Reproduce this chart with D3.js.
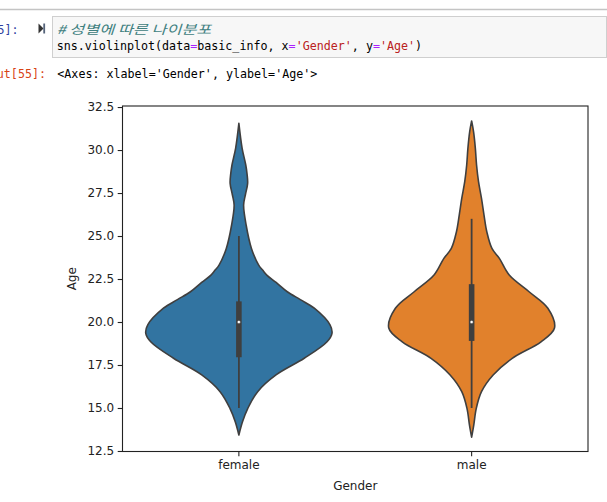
<!DOCTYPE html>
<html>
<head>
<meta charset="utf-8">
<script src="https://cdn.jsdelivr.net/npm/d3@7"></script>
<style>
  body { margin: 0; background: #fff; }
  svg { display: block; }
</style>
</head>
<body>
<script>
// categories and colours
var categories = ["female", "male"];
var colors = ["#3274a1", "#e1812c"];
var yTicks = [12.5, 15.0, 17.5, 20.0, 22.5, 25.0, 27.5, 30.0, 32.5];

// kde outline (age, relative density)
var femaleAge = [13.43, 14.2, 14.98, 15.95, 16.92, 17.89, 18.85, 19.34, 19.83, 20.8, 21.3, 21.76, 22.3, 22.73, 23.02, 23.31, 24.28, 25.64, 26.8, 27.4, 28.06, 28.6, 29.13, 30.1, 31.55];
var femaleDensity = [0, 0.039, 0.096, 0.202, 0.399, 0.702, 0.947, 1.0, 0.979, 0.81, 0.66, 0.52, 0.4, 0.3, 0.255, 0.213, 0.135, 0.078, 0.051, 0.07, 0.094, 0.088, 0.074, 0.035, 0];
var maleAge = [13.3, 14.01, 14.98, 15.95, 16.92, 17.89, 18.85, 19.65, 20.8, 21.76, 22.73, 23.7, 24.28, 25.25, 26.22, 27.19, 28.16, 29.13, 30.1, 31.06, 31.69];
var maleDensity = [0, 0.023, 0.05, 0.106, 0.231, 0.436, 0.745, 0.89, 0.819, 0.617, 0.404, 0.298, 0.218, 0.163, 0.133, 0.106, 0.074, 0.053, 0.04, 0.021, 0];

// whisker low, q1, median, q3, whisker high
var femaleBox = [15.0, 17.95, 20.0, 21.2, 25.0];
var maleBox = [15.0, 18.9, 20.0, 22.2, 26.0];

// notebook text
var inPrompt = "In [55]:";
var outPrompt = "Out[55]:";
var commentLine = "# 성별에 따른 나이분포";
var codeTokens = [
  ["sns.violinplot(data", "#000"], ["=", "#aa22ff"], ["basic_info, x", "#000"], ["=", "#aa22ff"],
  ["'Gender'", "#ba2121"], [", y", "#000"], ["=", "#aa22ff"], ["'Age'", "#ba2121"], [")", "#000"]
];
var outText = "<Axes: xlabel='Gender', ylabel='Age'>";

(function() {
var violins = [
  {name: categories[0], color: colors[0], pts: femaleAge.map(function(a, i) { return [a, femaleDensity[i]]; }), box: femaleBox},
  {name: categories[1], color: colors[1], pts: maleAge.map(function(a, i) { return [a, maleDensity[i]]; }), box: maleBox}
];

var svg = d3.select("body").append("svg")
  .attr("width", 607)
  .attr("height", 502);

// ---- notebook chrome ----
var cw = 7.03; // monospace cell width
var mono = "'DejaVu Sans Mono', monospace";
var monoSize = "11.68px"; // gives ~7.03px per char

svg.append("line")
  .attr("x1", 0).attr("x2", 607).attr("y1", 9.5).attr("y2", 9.5)
  .attr("stroke", "#c4c4c4").attr("stroke-width", 1.5);

svg.append("rect")
  .attr("x", 52.5).attr("y", 16.5).attr("width", 554).attr("height", 41)
  .attr("fill", "#f7f7f7").attr("stroke", "#cfcfcf").attr("stroke-width", 1);

svg.append("text")
  .attr("x", 18.5).attr("y", 33.5)
  .attr("text-anchor", "end")
  .attr("font-family", mono).attr("font-size", monoSize).attr("fill", "#303f9f")
  .text(inPrompt);

// run button
svg.append("path")
  .attr("d", "M38.5,23.5 L43.5,28.5 L38.5,33.5 Z")
  .attr("fill", "#333");
svg.append("rect")
  .attr("x", 43.3).attr("y", 23.5).attr("width", 1.8).attr("height", 10)
  .attr("fill", "#55637a");

svg.append("text")
  .attr("x", 56.7).attr("y", 33.5)
  .attr("textLength", 22 * cw).attr("lengthAdjust", "spacingAndGlyphs")
  .attr("font-family", "'Noto Sans CJK KR', " + mono).attr("font-style", "italic")
  .attr("font-size", "12.5px").attr("fill", "#408080")
  .text(commentLine);

var code = svg.append("text")
  .attr("x", 56.7).attr("y", 50)
  .attr("font-family", mono).attr("font-size", monoSize)
  .style("white-space", "pre");
codeTokens.forEach(function(t) {
  code.append("tspan").attr("fill", t[1]).text(t[0]);
});

svg.append("text")
  .attr("x", 46).attr("y", 78)
  .attr("text-anchor", "end")
  .attr("font-family", mono).attr("font-size", monoSize).attr("fill", "#d84315")
  .text(outPrompt);

svg.append("text")
  .attr("x", 57.3).attr("y", 78)
  .attr("font-family", mono).attr("font-size", monoSize).attr("fill", "#000")
  .style("white-space", "pre")
  .text(outText);

// ---- chart ----
var mLeft = 122.5, mRight = 588, mTop = 106, mBottom = 451.5;

var x = d3.scaleBand().domain(categories).range([mLeft, mRight]).padding(0);
var y = d3.scaleLinear().domain([12.47, 32.56]).range([mBottom, mTop]);
var w = d3.scaleLinear().domain([0, 1]).range([0, 0.4 * x.bandwidth()]);

var g = svg.append("g");

violins.forEach(function(v) {
  var cx = x(v.name) + x.bandwidth() / 2;
  var area = d3.area()
    .y(function(d) { return y(d[0]); })
    .x0(function(d) { return cx - w(d[1]); })
    .x1(function(d) { return cx + w(d[1]); })
    .curve(d3.curveCatmullRom.alpha(0.5));
  g.append("path")
    .datum(v.pts)
    .attr("d", area)
    .attr("fill", v.color)
    .attr("stroke", "#3f3f3f")
    .attr("stroke-width", 1.6)
    .attr("stroke-linejoin", "round");

  // inner box
  g.append("line")
    .attr("x1", cx).attr("x2", cx)
    .attr("y1", y(v.box[0])).attr("y2", y(v.box[4]))
    .attr("stroke", "#3f3f3f").attr("stroke-width", 1.8);
  g.append("line")
    .attr("x1", cx).attr("x2", cx)
    .attr("y1", y(v.box[1])).attr("y2", y(v.box[3]))
    .attr("stroke", "#3f3f3f").attr("stroke-width", 5.6);
  g.append("circle")
    .attr("cx", cx).attr("cy", y(v.box[2])).attr("r", 1.6)
    .attr("fill", "#fff").attr("stroke", "#3f3f3f").attr("stroke-width", 0.4);
});

// frame
svg.append("rect")
  .attr("x", mLeft).attr("y", mTop).attr("width", mRight - mLeft).attr("height", mBottom - mTop)
  .attr("fill", "none").attr("stroke", "#222").attr("stroke-width", 1.1);

var font = "'DejaVu Sans', sans-serif";

var yAxis = svg.append("g")
  .attr("transform", "translate(" + mLeft + ",0)")
  .call(d3.axisLeft(y).tickValues(yTicks).tickFormat(d3.format(".1f")).tickSize(4.8).tickPadding(3.5));
var xAxis = svg.append("g")
  .attr("transform", "translate(0," + mBottom + ")")
  .call(d3.axisBottom(x).tickSize(4.8).tickPadding(4.5));

[yAxis, xAxis].forEach(function(a) {
  a.select(".domain").remove();
  a.selectAll(".tick line").attr("stroke", "#222").attr("stroke-width", 1.1);
  a.selectAll(".tick text").attr("font-family", font).attr("font-size", "12px").attr("fill", "#222");
});

svg.append("text")
  .attr("x", (mLeft + mRight) / 2).attr("y", 489.5)
  .attr("text-anchor", "middle")
  .attr("font-family", font).attr("font-size", "12px").attr("fill", "#222")
  .text("Gender");

svg.append("text")
  .attr("transform", "translate(75.5," + ((mTop + mBottom) / 2) + ") rotate(-90)")
  .attr("text-anchor", "middle")
  .attr("font-family", font).attr("font-size", "12px").attr("fill", "#222")
  .text("Age");
})();
</script>
</body>
</html>
